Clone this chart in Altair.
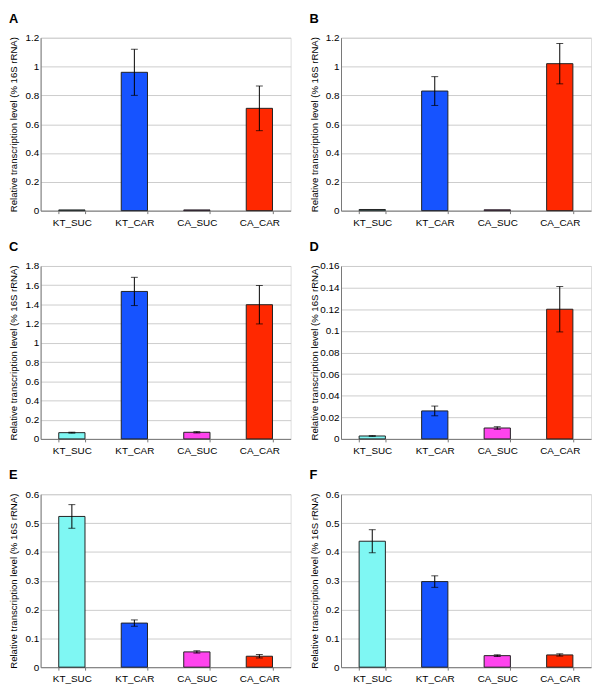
import altair as alt
import pandas as pd

categories = ["KT_SUC", "KT_CAR", "CA_SUC", "CA_CAR"]
bar_colors = ["#7ff7f3", "#1653ff", "#ff44ee", "#ff2800"]

panel_letters = ["A", "B", "C", "D", "E", "F"]

A_vals = [0.005, 0.96, 0.005, 0.71]
A_errs = [0.0, 0.16, 0.0, 0.155]
B_vals = [0.008, 0.83, 0.006, 1.02]
B_errs = [0.0, 0.10, 0.0, 0.14]
C_vals = [0.065, 1.535, 0.069, 1.397]
C_errs = [0.005, 0.147, 0.007, 0.20]
D_vals = [0.0027, 0.0259, 0.0101, 0.120]
D_errs = [0.0003, 0.0045, 0.0012, 0.021]
E_vals = [0.523, 0.153, 0.053, 0.038]
E_errs = [0.041, 0.011, 0.004, 0.006]
F_vals = [0.437, 0.297, 0.040, 0.0425]
F_errs = [0.040, 0.020, 0.003, 0.004]

y_max = [1.2, 1.2, 1.8, 0.16, 0.6, 0.6]
y_ticks = [
    [0, 0.2, 0.4, 0.6, 0.8, 1, 1.2],
    [0, 0.2, 0.4, 0.6, 0.8, 1, 1.2],
    [0, 0.2, 0.4, 0.6, 0.8, 1, 1.2, 1.4, 1.6, 1.8],
    [0, 0.02, 0.04, 0.06, 0.08, 0.1, 0.12, 0.14, 0.16],
    [0, 0.1, 0.2, 0.3, 0.4, 0.5, 0.6],
    [0, 0.1, 0.2, 0.3, 0.4, 0.5, 0.6],
]

all_vals = [A_vals, B_vals, C_vals, D_vals, E_vals, F_vals]
all_errs = [A_errs, B_errs, C_errs, D_errs, E_errs, F_errs]

y_title = "Relative transcription level (% 16S rRNA)"
FONT = "Liberation Sans"
W = 253
H = 175


def panel(letter, vals, errs, ymax, ticks):
    df = pd.DataFrame({
        "cat": categories,
        "val": vals,
        "lo": [v - e for v, e in zip(vals, errs)],
        "hi": [v + e for v, e in zip(vals, errs)],
        "err": errs,
    })
    xaxis = alt.Axis(labelAngle=0, labelFontSize=10, labelPadding=4,
                     tickBand="extent", tickSize=3, tickColor="#777777",
                     domainColor="#777777", labelColor="#000000", grid=False)
    xscale = alt.Scale(paddingInner=0.58, paddingOuter=0.29)
    xenc = alt.X("cat:N", sort=categories, title=None, scale=xscale, axis=xaxis)
    yscale = alt.Scale(domain=[0, ymax], nice=False, zero=True)
    yaxis = alt.Axis(values=ticks, format="~g", title=y_title, titleFontSize=9.7,
                     titleFontWeight="normal", titleColor="#000000",
                     labelFontSize=10, labelColor="#000000", labelPadding=2,
                     labelOverlap=False, labelFlush=False,
                     ticks=False, gridColor="#cccccc", domainColor="#777777",
                     minExtent=21, maxExtent=21, titlePadding=1)
    base = alt.Chart(df)
    bars = base.mark_bar(stroke="#222222", strokeWidth=1).encode(
        x=xenc,
        y=alt.Y("val:Q", scale=yscale, axis=yaxis, title=y_title),
        color=alt.Color("cat:N", scale=alt.Scale(domain=categories, range=bar_colors), legend=None),
    )
    errbase = base.transform_filter("datum.err > 0")
    rule = errbase.mark_rule(color="#000000", strokeWidth=1).encode(
        x=xenc,
        y=alt.Y("lo:Q", scale=yscale, axis=yaxis, title=y_title),
        y2="hi:Q",
    )
    cap_lo = errbase.mark_tick(color="#000000", size=7, thickness=1).encode(
        x=xenc,
        y=alt.Y("lo:Q", scale=yscale, axis=yaxis, title=y_title),
    )
    cap_hi = errbase.mark_tick(color="#000000", size=7, thickness=1).encode(
        x=xenc,
        y=alt.Y("hi:Q", scale=yscale, axis=yaxis, title=y_title),
    )
    return alt.layer(bars, rule, cap_lo, cap_hi).properties(
        width=W, height=H,
        title=alt.TitleParams(letter, anchor="start", frame="bounds", fontSize=13,
                              fontWeight="bold", font=FONT, offset=7, color="#000000"),
    )


panels = [panel(l, v, e, m, t) for l, v, e, m, t in
          zip(panel_letters, all_vals, all_errs, y_max, y_ticks)]

rows = [alt.hconcat(panels[i], panels[i + 1], spacing=17) for i in (0, 2, 4)]
chart = alt.vconcat(*rows, spacing=12).configure_view(
    stroke="#a9b7bf", strokeWidth=1
).configure_axis(
    labelFont=FONT, titleFont=FONT
).configure(padding=0)

chart.save("out.html", embed_options={"renderer": "svg", "actions": False})
